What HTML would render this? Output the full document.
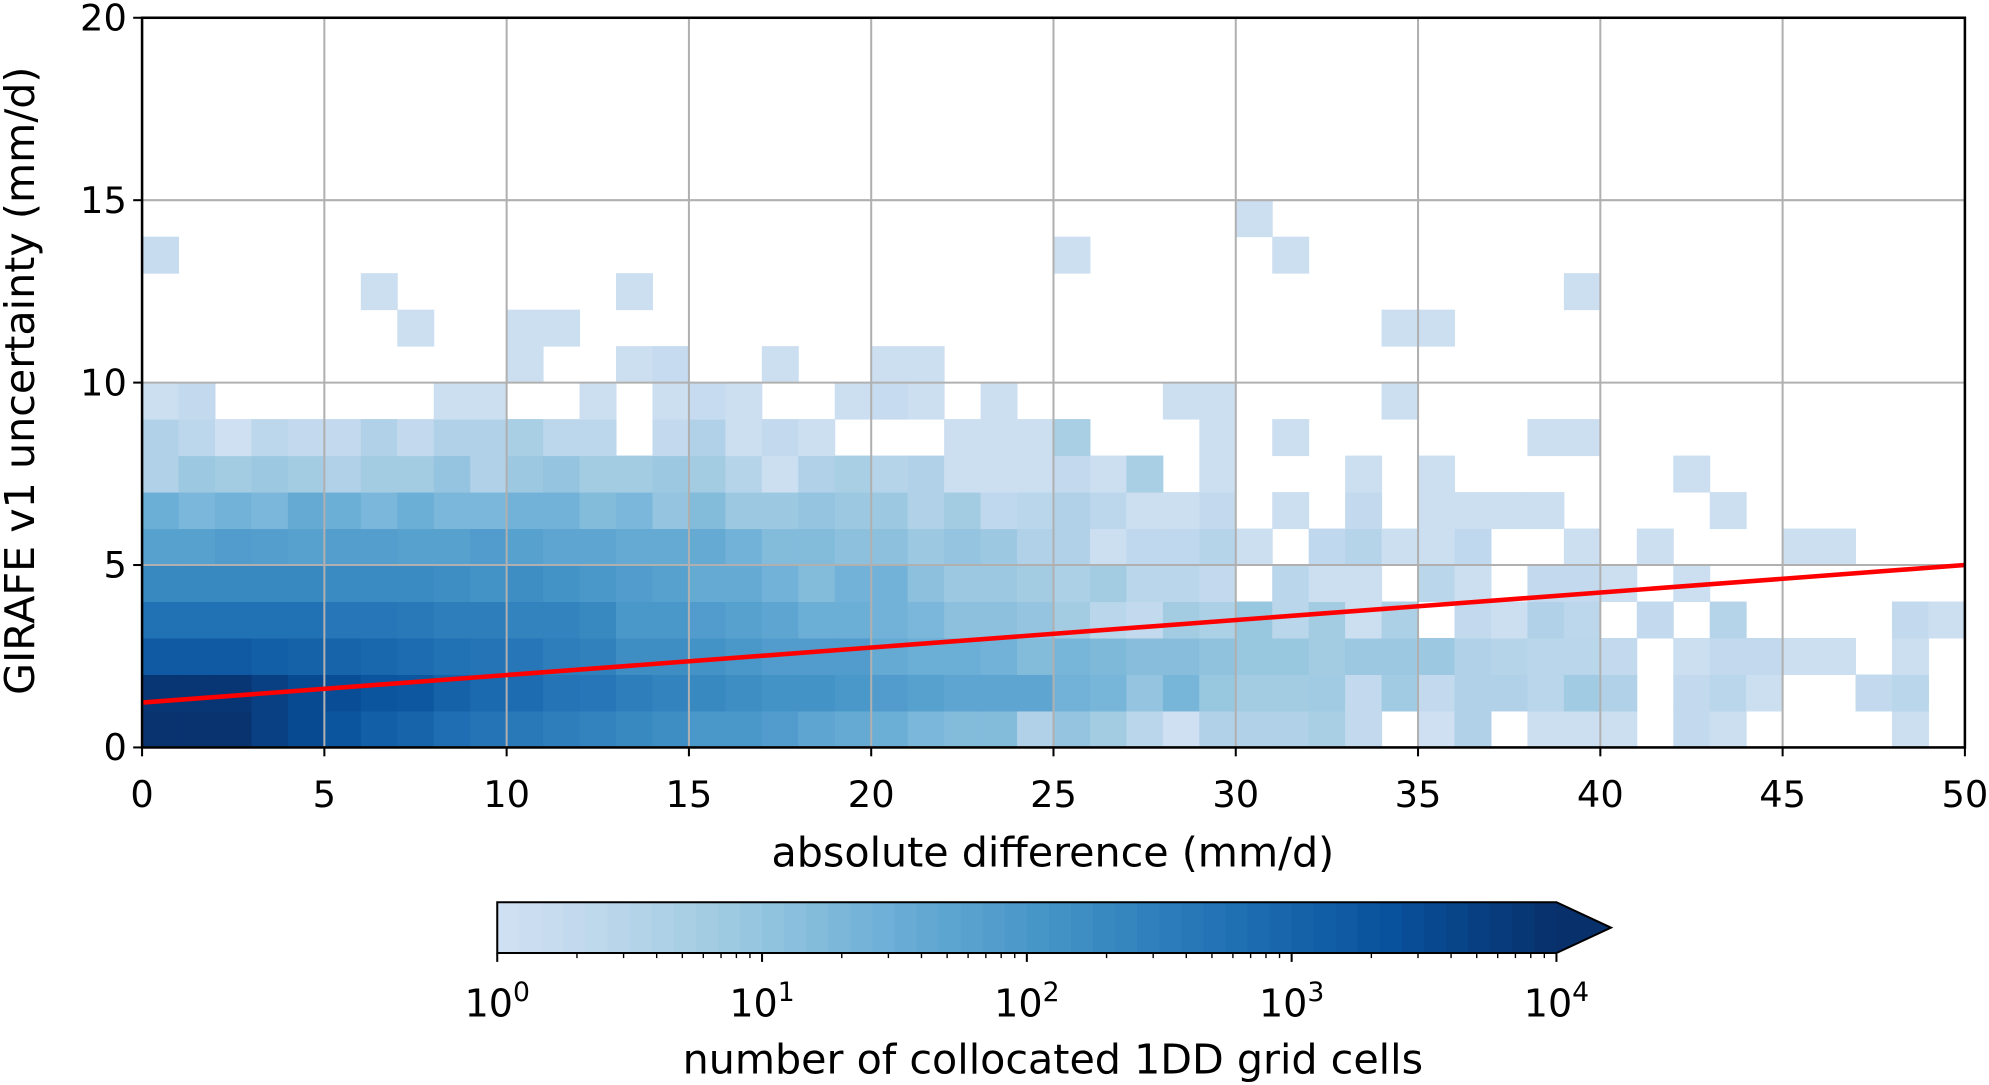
<!DOCTYPE html>
<html><head><meta charset="utf-8">
<style>
html,body{margin:0;padding:0;background:#fff;}
svg{display:block;}
text{font-family:"DejaVu Sans","Liberation Sans",sans-serif;fill:#000;}
</style></head>
<body>
<svg id="chart" width="1989" height="1085" viewBox="0 0 1568 855" preserveAspectRatio="none" xmlns="http://www.w3.org/2000/svg">
<g id="cells"></g>
<g id="grid"></g>
<g id="fit"></g>
<g id="axes"></g>
<g id="cbar"></g>
<text x="830" y="683" font-size="32.5" text-anchor="middle">absolute difference (mm/d)</text>
<text transform="translate(27,300) rotate(-90)" font-size="32.5" text-anchor="middle">GIRAFE v1 uncertainty (mm/d)</text>
<text x="830" y="846" font-size="32.5" text-anchor="middle">number of collocated 1DD grid cells</text>
</svg>
<script>
const N = null;
// log10(count) per 1x1 bin; rows = y bins 0..14, columns = x bins 0..49
const row0 = [3.95,3.95,3.95,3.7,3.5,3.3,3.1,3.0,2.8,2.7,2.6,2.5,2.4,2.3,2.2,2.0,2.0,1.9,1.7,1.6,1.5,1.3,1.2,1.2,0.6,1.0,0.8,0.45,0.05,0.6,0.6,0.6,0.7,0.3,N,0.05,0.6,N,0.1,0.1,0.1,N,0.3,0.1,N,N,N,N,0.1,N];
const row1 = [3.9,3.9,3.9,3.7,3.5,3.45,3.3,3.25,3.05,2.9,2.85,2.7,2.65,2.5,2.4,2.3,2.2,2.1,2.1,2.0,1.9,1.8,1.7,1.7,1.7,1.4,1.35,1.0,1.35,0.95,0.8,0.8,0.85,0.3,0.85,0.3,0.6,0.6,0.45,0.85,0.6,N,0.3,0.45,0.1,N,N,0.3,0.45,N];
const row2 = [3.2,3.2,3.2,3.1,3.05,3.0,2.95,2.85,2.75,2.7,2.65,2.5,2.45,2.2,2.2,2.1,2.0,1.9,1.9,1.9,1.6,1.5,1.5,1.4,1.2,1.35,1.25,1.15,1.15,1.05,0.95,0.95,0.8,0.9,0.9,0.9,0.6,0.5,0.45,0.45,0.3,N,0.1,0.3,0.3,0.1,0.1,N,0.1,N];
const row3 = [2.75,2.75,2.75,2.75,2.75,2.65,2.65,2.6,2.5,2.5,2.4,2.4,2.3,2.0,2.0,1.9,1.8,1.7,1.5,1.5,1.4,1.3,1.1,1.1,1.0,0.8,0.45,0.3,0.8,0.65,0.95,0.45,0.8,0.1,0.65,N,0.3,0.1,0.6,0.4,N,0.3,N,0.5,N,N,N,N,0.3,0.1];
const row4 = [2.3,2.3,2.3,2.3,2.3,2.25,2.25,2.25,2.2,2.1,2.2,2.1,2.0,1.9,1.8,1.6,1.6,1.4,1.2,1.4,1.4,1.1,0.9,0.9,0.8,0.65,0.8,0.45,0.45,0.3,N,0.45,0.1,0.1,N,0.45,0.1,N,0.3,0.3,0.1,N,0.1,N,N,N,N,N,N,N];
const row5 = [1.8,1.8,1.9,1.85,1.8,1.85,1.85,1.8,1.8,1.9,1.8,1.7,1.7,1.6,1.6,1.6,1.4,1.2,1.2,1.1,1.1,0.9,1.0,0.9,0.6,0.6,0.1,0.35,0.35,0.5,0.1,N,0.35,0.5,0.1,0.1,0.35,N,N,0.1,N,0.1,N,N,N,0.1,0.1,N,N,N];
const row6 = [1.5,1.3,1.4,1.3,1.6,1.5,1.3,1.5,1.3,1.3,1.4,1.4,1.2,1.3,1.0,1.2,0.9,0.9,1.0,0.9,0.9,0.6,0.8,0.35,0.45,0.6,0.4,0.1,0.1,0.3,N,0.1,N,0.3,N,0.1,0.1,0.1,0.1,N,N,N,N,0.1,N,N,N,N,N,N];
const row7 = [0.6,0.9,0.8,0.9,0.8,0.6,0.8,0.8,1.0,0.6,0.9,1.0,0.8,0.8,0.9,0.8,0.5,0.1,0.6,0.7,0.5,0.6,0.1,0.1,0.1,0.3,0.1,0.7,N,0.1,N,N,N,0.1,N,0.1,N,N,N,N,N,N,0.1,N,N,N,N,N,N,N];
const row8 = [0.6,0.4,0.05,0.4,0.3,0.3,0.6,0.3,0.6,0.6,0.7,0.4,0.4,N,0.3,0.6,0.1,0.3,0.1,N,N,N,0.1,0.1,0.1,0.7,N,N,N,0.1,N,0.1,N,N,N,N,N,N,0.1,0.1,N,N,N,N,N,N,N,N,N,N];
const row9 = [0.1,0.3,N,N,N,N,N,N,0.1,0.1,N,N,0.1,N,0.1,0.25,0.1,N,N,0.1,0.25,0.1,N,0.1,N,N,N,N,0.1,0.1,N,N,N,N,0.1,N,N,N,N,N,N,N,N,N,N,N,N,N,N,N];
const row10 = [N,N,N,N,N,N,N,N,N,N,0.1,N,N,0.1,0.25,N,N,0.1,N,N,0.1,0.1,N,N,N,N,N,N,N,N,N,N,N,N,N,N,N,N,N,N,N,N,N,N,N,N,N,N,N,N];
const row11 = [N,N,N,N,N,N,N,0.1,N,N,0.1,0.1,N,N,N,N,N,N,N,N,N,N,N,N,N,N,N,N,N,N,N,N,N,N,0.1,0.1,N,N,N,N,N,N,N,N,N,N,N,N,N,N];
const row12 = [N,N,N,N,N,N,0.1,N,N,N,N,N,N,0.1,N,N,N,N,N,N,N,N,N,N,N,N,N,N,N,N,N,N,N,N,N,N,N,N,N,0.1,N,N,N,N,N,N,N,N,N,N];
const row13 = [0.2,N,N,N,N,N,N,N,N,N,N,N,N,N,N,N,N,N,N,N,N,N,N,N,N,0.1,N,N,N,N,N,0.1,N,N,N,N,N,N,N,N,N,N,N,N,N,N,N,N,N,N];
const row14 = [N,N,N,N,N,N,N,N,N,N,N,N,N,N,N,N,N,N,N,N,N,N,N,N,N,N,N,N,N,N,0.1,N,N,N,N,N,N,N,N,N,N,N,N,N,N,N,N,N,N,N];
const rows = [row0,row1,row2,row3,row4,row5,row6,row7,row8,row9,row10,row11,row12,row13,row14];
const xTicks = [0,5,10,15,20,25,30,35,40,45,50];
const yTicks = [0,5,10,15,20];
const cbarExponents = [0,1,2,3,4];
const fitStart = [0, 1.23];
const fitEnd = [50, 5.0];

const NS = "http://www.w3.org/2000/svg";
const L=112, R=1549, T=14, B=589;
const xs = v => L + (v/50)*(R-L);
const ys = v => B - (v/20)*(B-T);
const stops = [[247,251,255],[222,235,247],[198,219,239],[158,202,225],[107,174,214],[66,146,198],[33,113,181],[8,81,156],[8,48,107]];
function cmap(t){
  t=Math.max(0,Math.min(1,t))*8; const i=Math.min(7,Math.floor(t)); const f=t-i;
  const a=stops[i], b=stops[i+1];
  return "rgb("+a.map((c,k)=>Math.round(c+(b[k]-c)*f)).join(",")+")";
}
const colorOf = v => cmap(0.2 + 0.8*(v/4));
function mk(tag, attrs, parent){ const e=document.createElementNS(NS,tag); for(const k in attrs) e.setAttribute(k,attrs[k]); parent.appendChild(e); return e; }

const cells = document.getElementById('cells');
rows.forEach((row, yi) => row.forEach((v, xi) => {
  if (v === null || v === undefined) return;
  const r = mk('rect', {x: xs(xi), y: ys(yi+1), width: xs(xi+1)-xs(xi)+0.4, height: ys(yi)-ys(yi+1)+0.4, fill: colorOf(v)}, cells);
  
  
}));

const grid = document.getElementById('grid');
xTicks.forEach(t => { const g = mk('line',{x1:xs(t),x2:xs(t),y1:T,y2:B,stroke:'#b0b0b0','stroke-width':1.6},grid);
    });
yTicks.forEach(t => { const g = mk('line',{x1:L,x2:R,y1:ys(t),y2:ys(t),stroke:'#b0b0b0','stroke-width':1.6},grid);
    });

const fit = document.getElementById('fit');
const fl = mk('line',{x1:xs(fitStart[0]),y1:ys(fitStart[1]),x2:xs(fitEnd[0]),y2:ys(fitEnd[1]),stroke:'#ff0000','stroke-width':3.6},fit);



const axes = document.getElementById('axes');
const frame = mk('rect',{x:L,y:T,width:R-L,height:B-T,fill:'none',stroke:'#000','stroke-width':2},axes);


xTicks.forEach(t => {
  mk('line',{x1:xs(t),x2:xs(t),y1:B,y2:B+7,stroke:'#000','stroke-width':1.6},axes);
  const tx = mk('text',{x:xs(t),y:B+47,'font-size':29,'text-anchor':'middle'},axes);
  tx.textContent = t;
  
  
});
yTicks.forEach(t => {
  mk('line',{x1:L-7,x2:L,y1:ys(t),y2:ys(t),stroke:'#000','stroke-width':1.6},axes);
  const tx = mk('text',{x:L-12,y:ys(t)+10,'font-size':29,'text-anchor':'end'},axes);
  tx.textContent = t;
  
  
});

// colorbar
const cb = document.getElementById('cbar');
const CL=392, CR=1227, CT=711, CB=751, TIP=1270;
const cx = e => CL + (e/4)*(CR-CL);
const nb = 48;
for (let i=0;i<nb;i++){
  mk('rect',{x:CL+i*(CR-CL)/nb,y:CT,width:(CR-CL)/nb+0.5,height:CB-CT,fill:colorOf(4*(i+0.5)/nb)},cb);
}
mk('polygon',{points:`${CR},${CT} ${TIP},${(CT+CB)/2} ${CR},${CB}`,fill:colorOf(4)},cb);
const outline = mk('polygon',{points:`${CL},${CT} ${CR},${CT} ${TIP},${(CT+CB)/2} ${CR},${CB} ${CL},${CB}`,fill:'none',stroke:'#000','stroke-width':1.6},cb);


cbarExponents.forEach(e => {
  mk('line',{x1:cx(e),x2:cx(e),y1:CB,y2:CB+7,stroke:'#000','stroke-width':1.6},cb);
  if (e < 4) for (let m=2;m<=9;m++){ const p=cx(e+Math.log10(m)); mk('line',{x1:p,x2:p,y1:CB,y2:CB+4,stroke:'#000','stroke-width':1.1},cb); }
  const tx = mk('text',{x:cx(e),y:CB+50,'font-size':30,'text-anchor':'middle'},cb);
  
  
  const t1 = document.createElementNS(NS,'tspan'); t1.textContent='10'; tx.appendChild(t1);
  const t2 = document.createElementNS(NS,'tspan'); t2.setAttribute('dy','-12'); t2.setAttribute('font-size','21'); t2.textContent=String(e); tx.appendChild(t2);
});
</script>
</body></html>
